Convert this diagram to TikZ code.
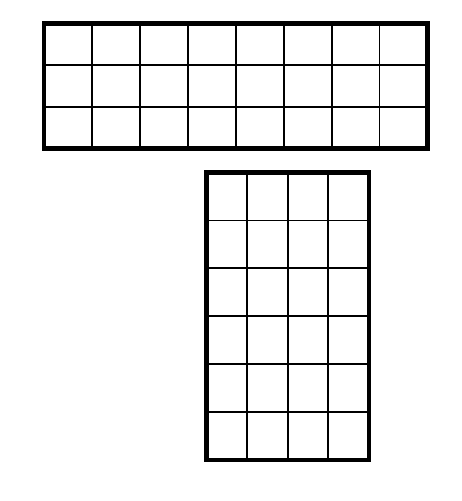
\documentclass[tikz,border=0pt]{standalone}
\tikzset{
  gridline/.style={line width=1.8pt, black},
  outerbox/.style={line width=4.5pt, black},
}
\begin{document}
\begin{tikzpicture}[x=1pt,y=-1pt]
\useasboundingbox (0,0) rectangle (461,501);
% top grid: 8 columns x 3 rows
\coordinate (tA) at (44,23.5);
\coordinate (tB) at (427.5,148.5);
\foreach \i in {1,...,7} {
  \draw[gridline] ({44+\i*383.5/8},23.5) -- ({44+\i*383.5/8},148.5);
}
\foreach \j in {1,2} {
  \draw[gridline] (44,{23.5+\j*125/3}) -- (427.5,{23.5+\j*125/3});
}
\draw[outerbox] (tA) rectangle (tB);
% bottom grid: 4 columns x 6 rows
\coordinate (bA) at (206.5,172.5);
\coordinate (bB) at (369,460);
\foreach \i in {1,2,3} {
  \draw[gridline] ({206.5+\i*162.5/4},172.5) -- ({206.5+\i*162.5/4},460);
}
\foreach \j in {1,...,5} {
  \draw[gridline] (206.5,{172.5+\j*287.5/6}) -- (369,{172.5+\j*287.5/6});
}
\draw[outerbox] (bA) rectangle (bB);
\end{tikzpicture}
\end{document}
